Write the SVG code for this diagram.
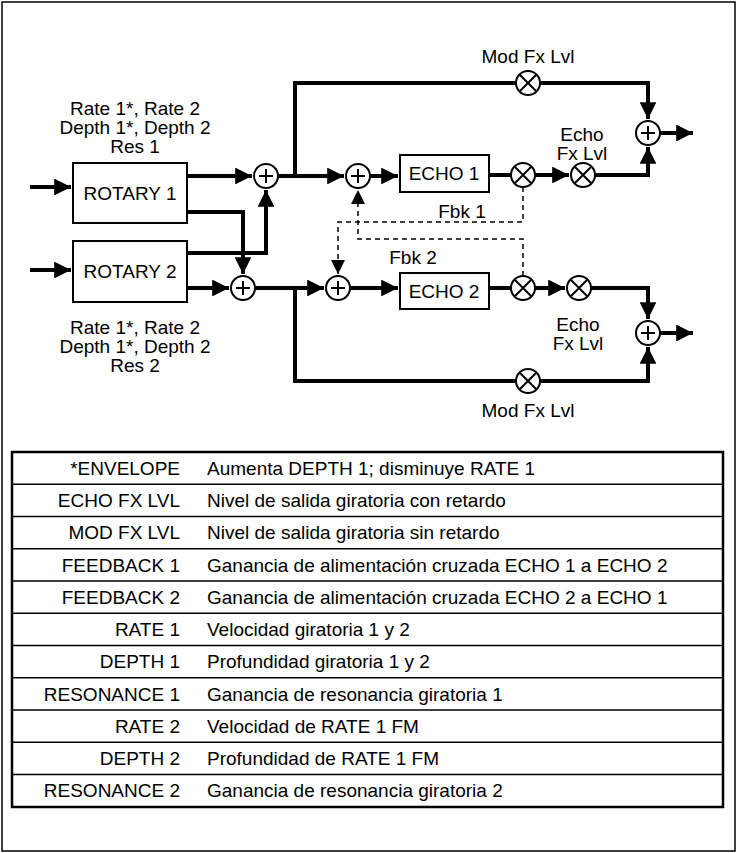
<svg xmlns="http://www.w3.org/2000/svg" width="737" height="853" viewBox="0 0 737 853">
<style>
text{font-family:"Liberation Sans",Arial,sans-serif;font-size:19px;fill:#000}
.c{text-anchor:middle}
.r{text-anchor:end}
.w{stroke:#000;stroke-width:4;fill:none}
.d{stroke:#000;stroke-width:1.5;fill:none;stroke-dasharray:5,4}
.n{fill:#fff;stroke:#000;stroke-width:2}
.t{stroke:#000;stroke-width:1.5}
</style>
<defs>
<marker id="a" viewBox="0 0 10 10" refX="10" refY="5" markerWidth="14" markerHeight="14" markerUnits="userSpaceOnUse" orient="auto"><path d="M0,0L10,5L0,10z"/></marker>
<marker id="b" viewBox="0 0 10 10" refX="10" refY="5" markerWidth="4.2" markerHeight="4.2" orient="auto"><path d="M0,0L10,5L0,10z"/></marker>
<g id="plus"><circle r="12" class="n"/><path d="M-7,0H7M0,-7V7" stroke="#000" stroke-width="2"/></g>
<g id="mul"><circle r="12" class="n"/><path d="M-8,-8L8,8M8,-8L-8,8" stroke="#000" stroke-width="2"/></g>
</defs>
<rect x="2" y="2" width="733" height="849" fill="#fff" stroke="#000" stroke-width="1.5"/>
<g id="connectors">
<path class="w" d="M30,187H71" marker-end="url(#b)"/>
<path class="w" d="M30,270H71" marker-end="url(#b)"/>
<path class="w" d="M187,176H252" marker-end="url(#b)"/>
<path class="w" d="M187,212H243V274" marker-end="url(#b)"/>
<path class="w" d="M187,253H266V190" marker-end="url(#b)"/>
<path class="w" d="M187,288H229" marker-end="url(#b)"/>
<path class="w" d="M278,176H344" marker-end="url(#b)"/>
<path class="w" d="M295,176V83H648V119" marker-end="url(#b)"/>
<path class="w" d="M370,176H398" marker-end="url(#b)"/>
<path class="w" d="M489,175H569" marker-end="url(#b)"/>
<path class="w" d="M595,175H648V147" marker-end="url(#b)"/>
<path class="w" d="M660,133H693" marker-end="url(#b)"/>
<path class="w" d="M255,288H324" marker-end="url(#b)"/>
<path class="w" d="M295,288V381H648V347" marker-end="url(#b)"/>
<path class="w" d="M350,288H398" marker-end="url(#b)"/>
<path class="w" d="M489,288H565" marker-end="url(#b)"/>
<path class="w" d="M591,288H648V319" marker-end="url(#b)"/>
<path class="w" d="M660,333H693" marker-end="url(#b)"/>
<path class="d" d="M523,187V222H338V274" marker-end="url(#a)"/>
<path class="d" d="M523,276V239H358V190" marker-end="url(#a)"/>
</g>
<g id="rotary1"><rect x="73" y="163" width="114" height="60" class="n"/><text x="130" y="200" class="c">ROTARY 1</text></g>
<g id="rotary2"><rect x="73" y="241" width="114" height="61" class="n"/><text x="130" y="278" class="c">ROTARY 2</text></g>
<g id="echo1"><rect x="400" y="155" width="89" height="37" class="n"/><text x="444" y="180" class="c">ECHO 1</text></g>
<g id="echo2"><rect x="400" y="273" width="89" height="36" class="n"/><text x="444" y="298" class="c">ECHO 2</text></g>
<g id="sum1"><use href="#plus" x="266" y="176"/></g>
<g id="sum2"><use href="#plus" x="243" y="288"/></g>
<g id="sum3"><use href="#plus" x="358" y="176"/></g>
<g id="sum4"><use href="#plus" x="338" y="288"/></g>
<g id="sumOut1"><use href="#plus" x="648" y="133"/></g>
<g id="sumOut2"><use href="#plus" x="648" y="333"/></g>
<g id="mod1"><use href="#mul" x="528" y="83"/></g>
<g id="mod2"><use href="#mul" x="528" y="381"/></g>
<g id="fb1"><use href="#mul" x="523" y="175"/></g>
<g id="fb2"><use href="#mul" x="523" y="288"/></g>
<g id="lvl1"><use href="#mul" x="583" y="175"/></g>
<g id="lvl2"><use href="#mul" x="579" y="288"/></g>
<g id="labels">
<text x="135" y="115" class="c">Rate 1*, Rate 2</text>
<text x="135" y="134" class="c">Depth 1*, Depth 2</text>
<text x="135" y="153" class="c">Res 1</text>
<text x="135" y="334" class="c">Rate 1*, Rate 2</text>
<text x="135" y="353" class="c">Depth 1*, Depth 2</text>
<text x="135" y="372" class="c">Res 2</text>
<text x="528" y="63" class="c">Mod Fx Lvl</text>
<text x="528" y="417" class="c">Mod Fx Lvl</text>
<text x="582" y="141" class="c">Echo</text>
<text x="582" y="160" class="c">Fx Lvl</text>
<text x="578" y="331" class="c">Echo</text>
<text x="578" y="350" class="c">Fx Lvl</text>
<text x="462" y="218" class="c">Fbk 1</text>
<text x="413" y="264" class="c">Fbk 2</text>
</g>
<g id="table">
<rect x="12" y="452" width="711" height="355" fill="none" stroke="#000" stroke-width="2.5"/>
<path class="t" d="M12,484.3H723M12,516.5H723M12,548.8H723M12,581H723M12,613.3H723M12,645.5H723M12,677.8H723M12,710H723M12,742.3H723M12,774.5H723"/>
<g class="r">
<text x="180" y="475">*ENVELOPE</text><text x="180" y="507">ECHO FX LVL</text><text x="180" y="539">MOD FX LVL</text><text x="180" y="572">FEEDBACK 1</text><text x="180" y="604">FEEDBACK 2</text><text x="180" y="636">RATE 1</text><text x="180" y="668">DEPTH 1</text><text x="180" y="701">RESONANCE 1</text><text x="180" y="733">RATE 2</text><text x="180" y="765">DEPTH 2</text><text x="180" y="797">RESONANCE 2</text>
</g>
<text x="207" y="475">Aumenta DEPTH 1; disminuye RATE 1</text>
<text x="207" y="507">Nivel de salida giratoria con retardo</text>
<text x="207" y="539">Nivel de salida giratoria sin retardo</text>
<text x="207" y="572">Ganancia de alimentación cruzada ECHO 1 a ECHO 2</text>
<text x="207" y="604">Ganancia de alimentación cruzada ECHO 2 a ECHO 1</text>
<text x="207" y="636">Velocidad giratoria 1 y 2</text>
<text x="207" y="668">Profundidad giratoria 1 y 2</text>
<text x="207" y="701">Ganancia de resonancia giratoria 1</text>
<text x="207" y="733">Velocidad de RATE 1 FM</text>
<text x="207" y="765">Profundidad de RATE 1 FM</text>
<text x="207" y="797">Ganancia de resonancia giratoria 2</text>
</g>
</svg>
